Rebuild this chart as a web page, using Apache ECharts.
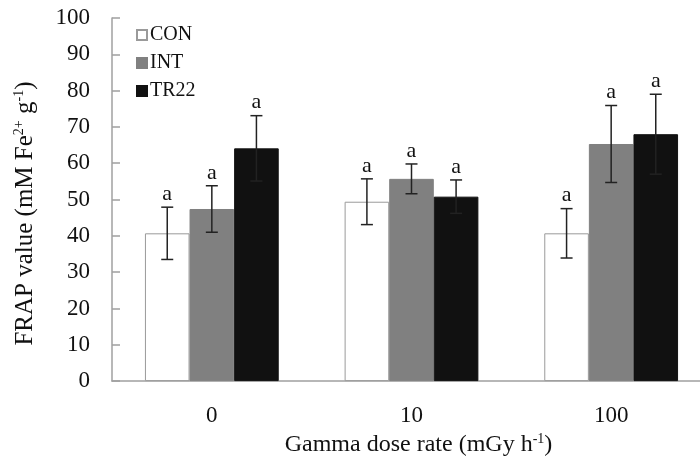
<!DOCTYPE html>
<html>
<head>
<meta charset="utf-8">
<script src="https://cdn.jsdelivr.net/npm/echarts@6/dist/echarts.min.js"></script>
<style>
  html, body { margin: 0; padding: 0; background: #fff; overflow: hidden; }
  /* plot runs slightly past the right edge in the original figure */
  #chart { width: 711px; height: 463px; }
</style>
</head>
<body>
<div id="chart"></div>
<script>
const categories = ['0', '10', '100'];
const seriesNames = ['CON', 'INT', 'TR22'];
const conMean = [40.7, 49.4, 40.7];
const conSd = [7.2, 6.3, 6.8];
const intMean = [47.4, 55.7, 65.3];
const intSd = [6.4, 4.1, 10.6];
const tr22Mean = [64.1, 50.8, 68.0];
const tr22Sd = [9.0, 4.6, 11.0];
const conLetters = ['a', 'a', 'a'];
const intLetters = ['a', 'a', 'a'];
const tr22Letters = ['a', 'a', 'a'];
const yTicks = [0, 10, 20, 30, 40, 50, 60, 70, 80, 90, 100];

const font = 'Liberation Serif';
const catGap = 0.33;
const fills = ['#ffffff', '#808080', '#111111'];
const borders = ['#9a9a9a', '#808080', '#111111'];

const means = [conMean, intMean, tr22Mean];
const sds = [conSd, intSd, tr22Sd];
const letters = [conLetters, intLetters, tr22Letters];

const chart = echarts.init(document.getElementById('chart'));

function errorSeries(k) {
  return {
    type: 'custom',
    name: seriesNames[k] + ' err',
    z: 5,
    data: categories.map((c, i) => [i, means[k][i], sds[k][i]]),
    renderItem: function (params, api) {
      const ci = api.value(0);
      const m = api.value(1);
      const sd = api.value(2);
      const band = api.size([1, 0])[0];
      const bw = band * (1 - catGap) / 3;
      const x = api.coord([ci, 0])[0] + (k - 1) * bw;
      const yTop = api.coord([ci, m + sd])[1];
      const yBot = api.coord([ci, m - sd])[1];
      const cap = 6;
      const ls = { stroke: '#222', lineWidth: 1.5 };
      return {
        type: 'group',
        children: [
          { type: 'line', shape: { x1: x, y1: yTop, x2: x, y2: yBot }, style: ls },
          { type: 'line', shape: { x1: x - cap, y1: yTop, x2: x + cap, y2: yTop }, style: ls },
          { type: 'line', shape: { x1: x - cap, y1: yBot, x2: x + cap, y2: yBot }, style: ls },
          {
            type: 'text',
            style: {
              text: letters[k][ci], x: x, y: yTop - 2,
              align: 'center', verticalAlign: 'bottom',
              font: '22px "' + font + '"', fill: '#111'
            }
          }
        ]
      };
    }
  };
}

const barSeries = seriesNames.map((n, k) => ({
  type: 'bar',
  name: n,
  data: means[k],
  barGap: '0%',
  barCategoryGap: (catGap * 100) + '%',
  itemStyle: { color: fills[k], borderColor: borders[k], borderWidth: 1 }
}));

const supStyle = { fontFamily: font, fontSize: 14, verticalAlign: 'top', lineHeight: 26, color: '#111' };

chart.setOption({
  animation: false,
  backgroundColor: '#fff',
  textStyle: { fontFamily: font, color: '#111' },
  grid: { left: 112, top: 18, right: 0, bottom: 77 },
  legend: {
    data: seriesNames,
    orient: 'vertical',
    left: 131, top: 20,
    icon: 'rect',
    itemWidth: 10, itemHeight: 10,
    itemGap: 8,
    textStyle: { fontFamily: font, fontSize: 20, color: '#111', lineHeight: 20, padding: [0, 0, 0, -2] }
  },
  xAxis: {
    type: 'category',
    data: categories,
    axisLine: { lineStyle: { color: '#a0a0a0', width: 1.5 } },
    axisTick: { show: false },
    axisLabel: { fontFamily: font, fontSize: 23, color: '#111', margin: 23 },
    name: 'Gamma dose rate (mGy h{sup|-1})',
    nameLocation: 'middle',
    nameGap: 47,
    nameTextStyle: {
      fontFamily: font, fontSize: 24, color: '#111', lineHeight: 26, padding: [0, 0, 0, 14],
      rich: { sup: supStyle }
    }
  },
  yAxis: {
    type: 'value',
    min: yTicks[0], max: yTicks[yTicks.length - 1], interval: 10,
    splitLine: { show: false },
    axisLine: { show: true, lineStyle: { color: '#a0a0a0', width: 1.5 } },
    axisTick: { show: true, inside: true, length: 8, lineStyle: { color: '#a0a0a0', width: 1.5 } },
    axisLabel: { fontFamily: font, fontSize: 23, color: '#111', margin: 22 },
    name: 'FRAP value (mM Fe{sup|2+} g{sup|-1})',
    nameLocation: 'middle',
    nameGap: 74,
    nameTextStyle: {
      fontFamily: font, fontSize: 25, color: '#111', lineHeight: 26, padding: [0, 28, 0, 0],
      rich: { sup: supStyle }
    }
  },
  series: barSeries.concat([0, 1, 2].map(errorSeries))
});
</script>
</body>
</html>
